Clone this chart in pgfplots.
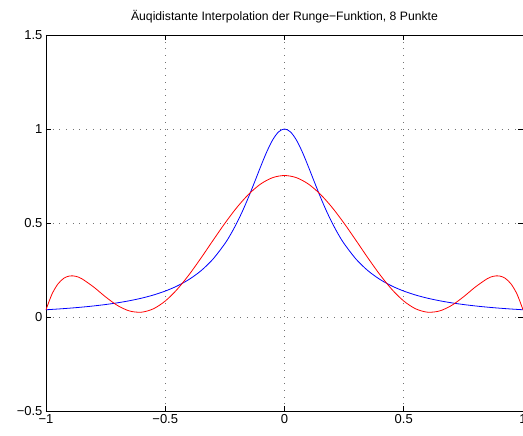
\documentclass[border=0pt]{standalone}
\usepackage{pgfplots}
\pgfplotsset{compat=1.18}
\usepackage{fontspec}
\setmainfont{Liberation Sans}
\begin{document}
\begin{tikzpicture}
\begin{axis}[
  at={(0pt,0pt)}, anchor=south west,
  scale only axis, width=477pt, height=376pt,
  xmin=-1, xmax=1, ymin=-0.5, ymax=1.5,
  xtick={-1,-0.5,0,0.5,1},
  xticklabels={−1,−0.5,0,0.5,1},
  ytick={-0.5,0,0.5,1,1.5},
  yticklabels={−0.5,0,0.5,1,1.5},
  grid=major,
  grid style={black!55, line width=0.8pt, dash pattern=on 0.8pt off 5.9pt},
  tick align=inside, major tick length=5pt,
  tick style={black, line width=0.6pt},
  axis line style={black, line width=0.8pt},
  ticklabel style={font=\fontsize{13}{13}\selectfont},
  /pgf/number format/assume math mode=true,
  title={Äuqidistante Interpolation der Runge−Funktion, 8 Punkte},
  title style={font=\fontsize{12.2}{12.2}\selectfont, yshift=2pt},
  clip=true,
]
\addplot[blue, line width=0.8pt, smooth] coordinates {
(-1,0.038462) (-0.95,0.042440) (-0.9,0.047059) (-0.85,0.052459) (-0.8,0.058824)
(-0.75,0.066390) (-0.7,0.075472) (-0.65,0.086486) (-0.6,0.1) (-0.55,0.116788)
(-0.5,0.137931) (-0.45,0.164948) (-0.4,0.2) (-0.35,0.246154) (-0.3,0.307692)
(-0.25,0.390244) (-0.225,0.441379) (-0.2,0.5) (-0.175,0.566372) (-0.15,0.64) (-0.125,0.719101)
(-0.1,0.8) (-0.075,0.876712) (-0.05,0.941176) (-0.025,0.984615) (0,1)
(0.025,0.984615) (0.05,0.941176) (0.075,0.876712) (0.1,0.8) (0.125,0.719101)
(0.15,0.64) (0.175,0.566372) (0.2,0.5) (0.225,0.441379) (0.25,0.390244) (0.3,0.307692)
(0.35,0.246154) (0.4,0.2) (0.45,0.164948) (0.5,0.137931) (0.55,0.116788)
(0.6,0.1) (0.65,0.086486) (0.7,0.075472) (0.75,0.066390) (0.8,0.058824)
(0.85,0.052459) (0.9,0.047059) (0.95,0.042440) (1,0.038462)
};
\addplot[red, line width=0.8pt, smooth] coordinates {
(-1,0.038462) (-0.975,0.121411) (-0.95,0.17556) (-0.925,0.206329) (-0.9,0.218499)
(-0.875,0.216349) (-0.85,0.203675) (-0.8,0.159337) (-0.75,0.106714) (-0.7,0.061000)
(-0.65,0.032059) (-0.6,0.025549) (-0.55,0.043432) (-0.5,0.084913) (-0.45,0.147001)
(-0.4,0.225146) (-0.35,0.313800) (-0.3,0.406893) (-0.25,0.498296) (-0.2,0.582169)
(-0.15,0.653304) (-0.1,0.707377) (-0.05,0.741156) (0,0.75264)
(0.05,0.741156) (0.1,0.707377) (0.15,0.653304) (0.2,0.582169) (0.25,0.498296)
(0.3,0.406893) (0.35,0.313800) (0.4,0.225146) (0.45,0.147001) (0.5,0.084913)
(0.55,0.043432) (0.6,0.025549) (0.65,0.032059) (0.7,0.061000) (0.75,0.106714)
(0.8,0.159337) (0.85,0.203675) (0.875,0.216349) (0.9,0.218499) (0.925,0.206329)
(0.95,0.17556) (0.975,0.121411) (1,0.038462)
};
\end{axis}
\pgfresetboundingbox
\path[use as bounding box] (-46pt,-25pt) rectangle (477pt,411pt);
\end{tikzpicture}
\end{document}
